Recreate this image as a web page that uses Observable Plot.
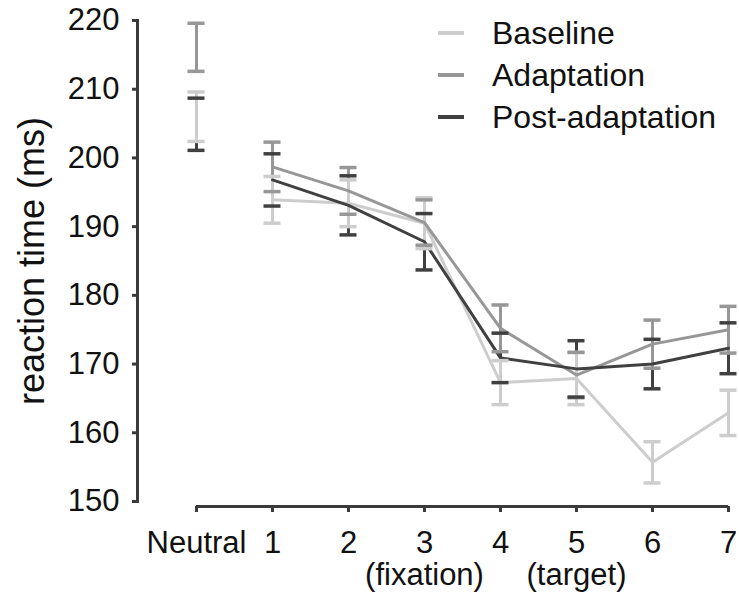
<!DOCTYPE html>
<html>
<head>
<meta charset="utf-8">
<script src="https://cdn.jsdelivr.net/npm/d3@7"></script>
<script src="https://cdn.jsdelivr.net/npm/@observablehq/plot@0.6"></script>
<style>
  html, body { margin: 0; padding: 0; background: #fff; }
  #wrap { position: relative; width: 739px; height: 600px; font-family: 'Liberation Sans', Arial, sans-serif; }
  #legend { position: absolute; left: 438px; top: 12px; font-size: 32px; color: #111; }
  .row { display: flex; align-items: center; height: 42px; }
  .sw { width: 26px; height: 4px; margin-right: 28px; }
</style>
</head>
<body>
<div id="wrap">
  <div id="chart"></div>
  <div id="legend"></div>
</div>
<script>
// ---- data ----
const xLabels = ["Neutral", "1", "2", "3", "4", "5", "6", "7"];
const xSubLabels = ["", "", "", "(fixation)", "", "(target)", "", ""];
const seriesNames = ["Baseline", "Adaptation", "Post-adaptation"];
const baselineMean   = [206.0, 193.9, 193.4, 190.5, 167.3, 167.9, 155.7, 162.9];
const baselineErr    = [3.6, 3.4, 3.4, 3.7, 3.2, 3.8, 3.0, 3.3];
const adaptationMean = [216.1, 198.7, 195.2, 190.6, 175.2, 168.4, 172.9, 175.0];
const adaptationErr  = [3.5, 3.6, 3.4, 3.3, 3.4, 3.3, 3.5, 3.4];
const postMean       = [204.9, 196.8, 193.1, 187.8, 170.9, 169.3, 170.0, 172.3];
const postErr        = [3.8, 3.8, 4.3, 4.1, 3.6, 4.1, 3.6, 3.7];
const yTicks = [150, 160, 170, 180, 190, 200, 210, 220];
const yTitle = "reaction time (ms)";
const seriesColors = ["#cdcdcd", "#979797", "#404040"];

// ---- table built from the arrays ----
const means = [baselineMean, adaptationMean, postMean];
const errs = [baselineErr, adaptationErr, postErr];
const rows = [];
seriesNames.forEach((s, si) => {
  xLabels.forEach((lab, i) => {
    rows.push({series: s, label: lab, mean: means[si][i], lo: means[si][i] - errs[si][i], hi: means[si][i] + errs[si][i], neutral: i === 0});
  });
});
const bySeries = s => rows.filter(d => d.series === s);
const lineRows = s => rows.filter(d => d.series === s && !d.neutral);
const subOf = d => xSubLabels[xLabels.indexOf(d)];

const axisColor = "#3a3a3a";
const font = "'Liberation Sans', Arial, sans-serif";

const marks = [];
// vertical error bars (post, adaptation, baseline)
for (const s of [seriesNames[2], seriesNames[1], seriesNames[0]]) {
  marks.push(Plot.ruleX(bySeries(s), {x: "label", y1: "lo", y2: "hi", stroke: "series", strokeWidth: 3}));
}
// mean lines
for (const s of seriesNames) {
  marks.push(Plot.line(lineRows(s), {x: "label", y: "mean", stroke: "series", strokeWidth: 3}));
}
// caps
for (const s of seriesNames) {
  marks.push(Plot.ruleY(bySeries(s), {x1: "label", x2: "label", y: "hi", stroke: "series", strokeWidth: 3.5, insetLeft: -8.5, insetRight: -8.5}));
  marks.push(Plot.ruleY(bySeries(s), {x1: "label", x2: "label", y: "lo", stroke: "series", strokeWidth: 3.5, insetLeft: -8.5, insetRight: -8.5}));
}
// axes
marks.push(Plot.frame({anchor: "left", stroke: axisColor, strokeWidth: 3}));
marks.push(Plot.axisY({ticks: yTicks, tickSize: 5, tickPadding: 13, fontSize: 31, stroke: axisColor, strokeWidth: 3, fill: "#111", label: null}));
marks.push(Plot.ruleY([yTicks[0]], {x1: () => xLabels[0], x2: () => xLabels[xLabels.length - 1], dy: 5, stroke: axisColor, strokeWidth: 3}));
marks.push(Plot.axisX({dy: 5, tickSize: 6, tickPadding: 17, fontSize: 31, lineHeight: 1.05, stroke: axisColor, strokeWidth: 3, fill: "#111", label: null,
  tickFormat: d => subOf(d) ? d + "\n" + subOf(d) : d}));
marks.push(Plot.text([yTitle], {frameAnchor: "left", rotate: -90, dx: -94, fontSize: 36, textAnchor: "middle", lineAnchor: "bottom", fill: "#111"}));

const chart = Plot.plot({
  width: 739,
  height: 600,
  marginLeft: 137,
  marginRight: 11,
  marginTop: 20,
  marginBottom: 99,
  style: {fontFamily: font, background: "white", overflow: "visible"},
  x: {type: "point", domain: xLabels, range: [195, 728], padding: 0, axis: null},
  y: {domain: [150, 220], axis: null},
  color: {domain: seriesNames, range: seriesColors},
  marks
});
document.getElementById("chart").appendChild(chart);

// legend
const legend = document.getElementById("legend");
seriesNames.forEach((s, i) => {
  const row = document.createElement("div");
  row.className = "row";
  const sw = document.createElement("div");
  sw.className = "sw";
  sw.style.background = seriesColors[i];
  const t = document.createElement("span");
  t.textContent = s;
  row.appendChild(sw);
  row.appendChild(t);
  legend.appendChild(row);
});
</script>
</body>
</html>
